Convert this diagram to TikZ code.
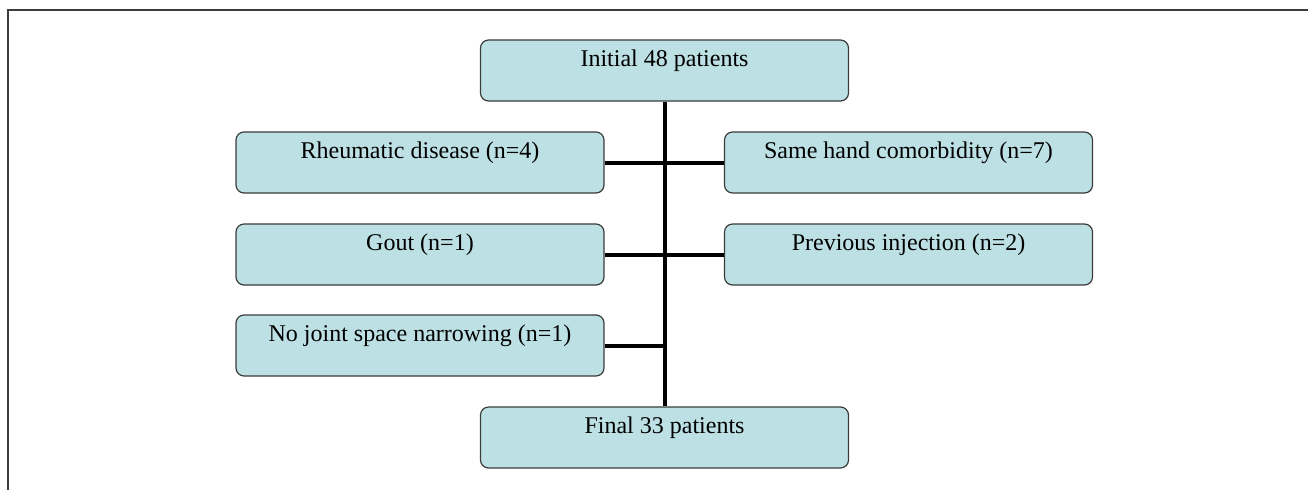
\documentclass[tikz,border=0pt]{standalone}
\usepackage{fontspec}
\setmainfont{Liberation Serif}
\usepackage{xcolor}
\usepackage{tikz}
\usetikzlibrary{positioning}

\definecolor{boxfill}{HTML}{BCE0E3}
\definecolor{boxline}{HTML}{3C3C3C}

\begin{document}
\begin{tikzpicture}[
  x=0.75pt,y=-0.75pt,
  b/.style={draw=boxline,fill=boxfill,line width=0.9pt,rounded corners=6pt,
    minimum width=276pt,inner xsep=0pt,inner ysep=0pt,
    text height=20pt,text depth=25.75pt,font=\fontsize{18}{21}\selectfont},
  l/.style={line width=3pt,draw=black}
]
\useasboundingbox (0,0) rectangle (1308,490);
\draw[boxline,line width=1.5pt] (8,490) -- (8,10) -- (1308,10);

\node[b] (init) at (664.5,70.5) {Initial 48 patients};
\node[b] (rheu) at (420,162.5) {Rheumatic disease (n=4)};
\node[b] (hand) at (908.5,162.5) {Same hand comorbidity (n=7)};
\node[b] (gout) at (420,254.5) {Gout (n=1)};
\node[b] (inj) at (908.5,254.5) {Previous injection (n=2)};
\node[b] (jsn) at (420,345.5) {No joint space narrowing (n=1)};
\node[b] (final) at (664.5,437.5) {Final 33 patients};

\draw[l] (init) -- (final);
\draw[l] (rheu) -- (hand);
\draw[l] (gout) -- (inj);
\draw[l] (jsn) -- (jsn -| init);
\end{tikzpicture}
\end{document}
